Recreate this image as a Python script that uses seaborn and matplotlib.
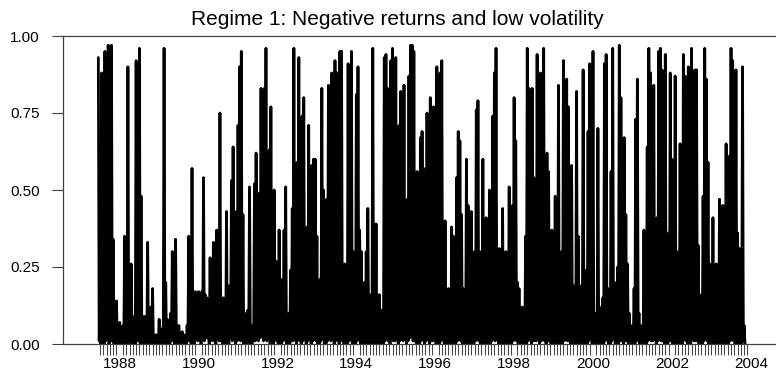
import numpy as np
import pandas as pd
import matplotlib
matplotlib.use("Agg")
import matplotlib.pyplot as plt
import seaborn as sns

# Half-monthly peaks of the smoothed probability of regime 1
p_1987_1990 = [0.93, 0.10, 0.88, 0.05, 0.95, 0.30, 0.97, 0.10, 0.97, 0.34,
               0.02, 0.14, 0.03, 0.07, 0.01, 0.06, 0.35, 0.02, 0.90, 0.05,
               0.26, 0.02, 0.09, 0.92, 0.10, 0.96, 0.48, 0.02, 0.09, 0.01,
               0.33, 0.05, 0.12, 0.18, 0.01, 0.03, 0.01, 0.08, 0.05, 0.02,
               0.96, 0.20, 0.08, 0.02, 0.10, 0.30, 0.02, 0.34, 0.04, 0.06,
               0.01, 0.04, 0.03, 0.01, 0.06, 0.35, 0.05, 0.57, 0.08, 0.17,
               0.03, 0.17, 0.06, 0.17, 0.54, 0.16]
p_1990_1992 = [0.15, 0.03, 0.28, 0.05, 0.33, 0.08, 0.37, 0.29, 0.75, 0.05,
               0.15, 0.02, 0.43, 0.01, 0.19, 0.53, 0.64, 0.10, 0.43, 0.71,
               0.90, 0.95, 0.42, 0.10, 0.03, 0.11, 0.51, 0.02, 0.06, 0.52,
               0.62, 0.10, 0.49, 0.83, 0.15, 0.83, 0.96, 0.20, 0.63, 0.77,
               0.10, 0.50, 0.27, 0.04, 0.37, 0.08, 0.21, 0.37, 0.51, 0.03,
               0.10, 0.24, 0.44, 0.96, 0.20, 0.59, 0.93, 0.10, 0.74, 0.80,
               0.15, 0.38, 0.71, 0.10, 0.58, 0.60]
p_1993_1995 = [0.60, 0.35, 0.08, 0.21, 0.83, 0.50, 0.10, 0.47, 0.84, 0.70,
               0.88, 0.30, 0.92, 0.88, 0.36, 0.95, 0.95, 0.20, 0.26, 0.05,
               0.91, 0.58, 0.95, 0.30, 0.10, 0.81, 0.90, 0.37, 0.30, 0.05,
               0.20, 0.30, 0.44, 0.05, 0.16, 0.96, 0.17, 0.39, 0.08, 0.16,
               0.11, 0.03, 0.93, 0.94, 0.83, 0.25, 0.92, 0.96, 0.80, 0.93,
               0.20, 0.71, 0.82, 0.30, 0.84, 0.15, 0.47, 0.87, 0.97, 0.97,
               0.95, 0.20, 0.56, 0.11, 0.67, 0.69, 0.57]
p_1995_1998 = [0.50, 0.75, 0.20, 0.80, 0.56, 0.77, 0.11, 0.90, 0.25, 0.88,
               0.92, 0.09, 0.40, 0.10, 0.18, 0.05, 0.38, 0.35, 0.19, 0.54,
               0.69, 0.66, 0.42, 0.18, 0.08, 0.60, 0.45, 0.15, 0.43, 0.15,
               0.30, 0.76, 0.79, 0.20, 0.30, 0.60, 0.15, 0.41, 0.11, 0.50,
               0.20, 0.74, 0.88, 0.96, 0.20, 0.31, 0.17, 0.44, 0.10, 0.30,
               0.08, 0.51, 0.10, 0.45, 0.80, 0.66, 0.20, 0.18, 0.02, 0.12,
               0.10, 0.35, 0.96, 0.83, 0.20, 0.83, 0.54]
p_1998_2001 = [0.45, 0.94, 0.47, 0.88, 0.85, 0.96, 0.40, 0.62, 0.56, 0.20,
               0.37, 0.30, 0.48, 0.29, 0.84, 0.25, 0.30, 0.92, 0.71, 0.86,
               0.77, 0.30, 0.58, 0.19, 0.13, 0.82, 0.35, 0.15, 0.19, 0.89,
               0.20, 0.24, 0.69, 0.91, 0.30, 0.95, 0.04, 0.10, 0.70, 0.12,
               0.05, 0.15, 0.91, 0.94, 0.18, 0.10, 0.56, 0.96, 0.20, 0.02,
               0.25, 0.97, 0.80, 0.20, 0.67, 0.42, 0.26, 0.10, 0.06, 0.03,
               0.18, 0.73, 0.86, 0.10, 0.06, 0.05, 0.37]
p_2001_2003 = [0.21, 0.64, 0.96, 0.88, 0.55, 0.84, 0.20, 0.41, 0.95, 0.96,
               0.89, 0.30, 0.94, 0.21, 0.36, 0.88, 0.60, 0.15, 0.87, 0.20,
               0.30, 0.65, 0.21, 0.94, 0.87, 0.30, 0.90, 0.25, 0.96, 0.30,
               0.89, 0.89, 0.32, 0.10, 0.16, 0.48, 0.96, 0.86, 0.59, 0.26,
               0.10, 0.41, 0.17, 0.26, 0.10, 0.47, 0.44, 0.45, 0.12, 0.65,
               0.20, 0.61, 0.96, 0.92, 0.30, 0.89, 0.36, 0.31, 0.10, 0.90,
               0.06]

# Troughs between consecutive peaks (the floor of the black band, close to zero)
q_1987_1990 = [0.01, 0.00, 0.02, 0.00, 0.01, 0.02, 0.00, 0.01, 0.01, 0.00,
               0.00, 0.02, 0.00, 0.01, 0.00, 0.00, 0.01, 0.00, 0.01, 0.00,
               0.02, 0.00, 0.00, 0.01, 0.01, 0.00, 0.00, 0.01, 0.00, 0.00,
               0.01, 0.00, 0.01, 0.00, 0.00, 0.00, 0.00, 0.01, 0.00, 0.00,
               0.01, 0.00, 0.00, 0.00, 0.01, 0.01, 0.00, 0.01, 0.00, 0.00,
               0.00, 0.00, 0.00, 0.00, 0.01, 0.01, 0.00, 0.02, 0.00, 0.02,
               0.01, 0.03, 0.00, 0.02, 0.01, 0.02]
q_1990_1992 = [0.02, 0.00, 0.03, 0.01, 0.02, 0.00, 0.02, 0.01, 0.01, 0.00,
               0.02, 0.00, 0.01, 0.00, 0.02, 0.01, 0.02, 0.00, 0.01, 0.02,
               0.01, 0.02, 0.00, 0.00, 0.00, 0.01, 0.00, 0.00, 0.01, 0.01,
               0.02, 0.01, 0.02, 0.03, 0.01, 0.02, 0.01, 0.02, 0.00, 0.01,
               0.00, 0.02, 0.01, 0.00, 0.01, 0.00, 0.01, 0.02, 0.00, 0.00,
               0.00, 0.01, 0.01, 0.02, 0.00, 0.02, 0.01, 0.00, 0.01, 0.02,
               0.00, 0.01, 0.02, 0.00, 0.01, 0.02]
q_1993_1995 = [0.01, 0.00, 0.00, 0.01, 0.02, 0.00, 0.00, 0.01, 0.02, 0.01,
               0.02, 0.00, 0.01, 0.02, 0.00, 0.02, 0.01, 0.00, 0.00, 0.00,
               0.01, 0.02, 0.00, 0.01, 0.00, 0.01, 0.02, 0.00, 0.00, 0.00,
               0.00, 0.01, 0.00, 0.00, 0.00, 0.01, 0.00, 0.01, 0.00, 0.00,
               0.00, 0.00, 0.01, 0.02, 0.01, 0.00, 0.02, 0.01, 0.01, 0.02,
               0.00, 0.01, 0.02, 0.01, 0.02, 0.00, 0.01, 0.02, 0.03, 0.01,
               0.01, 0.00, 0.00, 0.00, 0.01, 0.02, 0.00]
q_1995_1998 = [0.01, 0.02, 0.00, 0.01, 0.01, 0.02, 0.00, 0.01, 0.00, 0.01,
               0.02, 0.00, 0.01, 0.00, 0.00, 0.00, 0.01, 0.00, 0.00, 0.01,
               0.02, 0.01, 0.00, 0.00, 0.00, 0.01, 0.00, 0.00, 0.01, 0.00,
               0.01, 0.02, 0.01, 0.00, 0.00, 0.01, 0.00, 0.01, 0.00, 0.00,
               0.01, 0.02, 0.01, 0.02, 0.00, 0.01, 0.00, 0.00, 0.00, 0.01,
               0.00, 0.01, 0.00, 0.01, 0.02, 0.01, 0.00, 0.00, 0.00, 0.00,
               0.00, 0.00, 0.01, 0.02, 0.00, 0.01, 0.01]
q_1998_2001 = [0.01, 0.02, 0.00, 0.01, 0.02, 0.01, 0.00, 0.01, 0.01, 0.00,
               0.01, 0.00, 0.01, 0.00, 0.01, 0.00, 0.00, 0.01, 0.02, 0.01,
               0.01, 0.00, 0.01, 0.00, 0.00, 0.01, 0.00, 0.00, 0.00, 0.01,
               0.00, 0.00, 0.01, 0.02, 0.00, 0.01, 0.00, 0.00, 0.01, 0.00,
               0.00, 0.00, 0.01, 0.02, 0.00, 0.00, 0.01, 0.02, 0.00, 0.00,
               0.00, 0.01, 0.01, 0.00, 0.01, 0.01, 0.00, 0.00, 0.00, 0.00,
               0.00, 0.01, 0.02, 0.00, 0.00, 0.00, 0.01]
q_2001_2003 = [0.00, 0.01, 0.02, 0.01, 0.01, 0.02, 0.00, 0.01, 0.02, 0.01,
               0.01, 0.00, 0.02, 0.00, 0.01, 0.01, 0.00, 0.00, 0.01, 0.00,
               0.00, 0.01, 0.00, 0.02, 0.01, 0.00, 0.01, 0.00, 0.02, 0.01,
               0.01, 0.01, 0.00, 0.00, 0.00, 0.01, 0.02, 0.01, 0.00, 0.00,
               0.00, 0.00, 0.00, 0.00, 0.00, 0.01, 0.00, 0.01, 0.00, 0.01,
               0.00, 0.01, 0.02, 0.01, 0.00, 0.01, 0.00, 0.00, 0.00, 0.01,
               0.00]

year_labels = ["1988", "1990", "1992", "1994", "1996", "1998", "2000", "2002", "2004"]
y_ticks = [0.0, 0.25, 0.5, 0.75, 1.0]

peaks = np.array(p_1987_1990 + p_1990_1992 + p_1993_1995 +
                 p_1995_1998 + p_1998_2001 + p_2001_2003)
troughs = np.array(q_1987_1990 + q_1990_1992 + q_1993_1995 +
                   q_1995_1998 + q_1998_2001 + q_2001_2003)

start = 1987.458
t_peak = start + np.arange(len(peaks)) / 24.0
t_trough = t_peak + 1 / 48.0
df = pd.DataFrame({"t": np.concatenate([t_peak, t_trough]),
                   "prob": np.concatenate([peaks, troughs])}).sort_values("t")

sns.set_style("white")
plt.rcParams["font.family"] = ["Liberation Sans", "DejaVu Sans"]
plt.rcParams["text.color"] = "black"
plt.rcParams["xtick.color"] = "black"
plt.rcParams["ytick.color"] = "black"

fig = plt.figure(figsize=(7.76, 3.74), dpi=100)
ax = fig.add_axes([63 / 776, 1 - 344 / 374, 1 - 63 / 776, (344 - 36) / 374])

sns.lineplot(data=df, x="t", y="prob", color="black", linewidth=2.0,
             sort=True, ax=ax)

ax.set_xlim(1986.562, 2004.64)
ax.set_ylim(0, 1)
ax.set_xlabel("")
ax.set_ylabel("")

ax.set_yticks(y_ticks)
ax.set_yticklabels([f"{v:.2f}" for v in y_ticks])
ax.set_xticks([float(s) for s in year_labels])
ax.set_xticklabels(year_labels)
months = np.arange(1987 + 6 / 12, 2003 + 11.5 / 12, 1 / 12)
ax.set_xticks(months, minor=True)

ax.tick_params(axis="y", direction="out", length=8, width=0.8, pad=8.6,
               labelsize=11, color="#404040", labelcolor="black", left=True)
ax.tick_params(axis="x", which="major", length=0, pad=9.4, labelsize=11,
               labelcolor="black")
ax.tick_params(axis="x", which="minor", direction="out", length=8, width=0.7,
               color="#404040", bottom=True)

for side in ["left", "top", "bottom"]:
    ax.spines[side].set_visible(True)
    ax.spines[side].set_color("#404040")
    ax.spines[side].set_linewidth(0.9)
ax.spines["right"].set_visible(False)

fig.text(397 / 776, 1 - 25 / 374, "Regime 1: Negative returns and low volatility",
         ha="center", va="baseline", fontsize=15, color="black")

fig.savefig("out.png", dpi=100)
